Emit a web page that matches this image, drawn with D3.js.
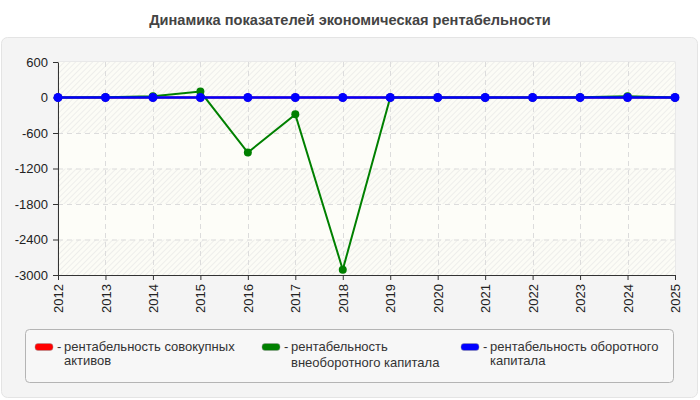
<!DOCTYPE html>
<html>
<head>
<meta charset="utf-8">
<script src="https://cdn.jsdelivr.net/npm/d3@7"></script>
<style>
  body { margin: 0; background: #fff; font-family: "Liberation Sans", Arial, sans-serif; }
</style>
</head>
<body>
<div id="chart"></div>
<script>
// data
const years = [2012, 2013, 2014, 2015, 2016, 2017, 2018, 2019, 2020, 2021, 2022, 2023, 2024, 2025]
const totalAssets = [0, 0, 0, 0, 0, 0, 0, 0, 0, 0, 0, 0, 0, 0]
const fixedCapital = [0, 5, 20, 100, -930, -285, -2910, 0, 0, 0, 0, 5, 22, 0]
const workingCapital = [0, 0, 0, 0, 0, 0, 0, 0, 0, 0, 0, 0, 0, 0]
const yTicks = [600, 0, -600, -1200, -1800, -2400, -3000]
const hatchedBands = [[600, 0], [0, -600], [-1200, -1800], [-2400, -3000]]

const series = [
  {name: 'рентабельность совокупных|активов', values: totalAssets, color: '#ff0000'},
  {name: 'рентабельность|внеоборотного капитала', values: fixedCapital, color: '#008000'},
  {name: 'рентабельность оборотного|капитала', values: workingCapital, color: '#0000ff'}
]

let W = 700, H = 400
let margin = {top: 62, right: 25, bottom: 125, left: 58},
  width = W - margin.left - margin.right,
  height = H - margin.top - margin.bottom

let svg = d3.select('#chart').append('svg')
  .attr('width', W).attr('height', H)
  .style('font-family', '"Liberation Sans", Arial, sans-serif')

let defs = svg.append('defs')
let pat = defs.append('pattern').attr('id', 'hatch')
  .attr('width', 4).attr('height', 4)
  .attr('patternUnits', 'userSpaceOnUse')
  .attr('patternTransform', 'rotate(45)')
pat.append('rect').attr('width', 4).attr('height', 4).attr('fill', '#fcfcf6')
pat.append('line').attr('x1', 0).attr('y1', 0).attr('x2', 0).attr('y2', 4)
  .attr('stroke', '#eaeae8').attr('stroke-width', 1.5)

// panel
svg.append('rect').attr('x', 1.5).attr('y', 37.5).attr('width', 696).attr('height', 360)
  .attr('rx', 6).attr('fill', '#f4f4f4').attr('stroke', '#e4e4e4')

svg.append('text').attr('x', W / 2).attr('y', 25)
  .attr('text-anchor', 'middle')
  .attr('font-size', 14.6).attr('font-weight', 'bold').attr('fill', '#444')
  .text('Динамика показателей экономическая рентабельности')

let g = svg.append('g').attr('transform', 'translate(' + margin.left + ',' + margin.top + ')')

let x = d3.scaleLinear().domain(d3.extent(years)).range([0, width])
let y = d3.scaleLinear().domain([-3000, 600]).range([height, 0])

g.append('rect').attr('width', width).attr('height', height)
  .attr('fill', '#fdfdf8').attr('stroke', '#dddddd')

g.selectAll('.band').data(hatchedBands).join('rect')
  .attr('class', 'band')
  .attr('x', 0).attr('width', width)
  .attr('y', d => y(d[0])).attr('height', d => y(d[1]) - y(d[0]))
  .attr('fill', 'url(#hatch)')

// grid
g.append('g').selectAll('line').data(yTicks.slice(1, -1)).join('line')
  .attr('x1', 0).attr('x2', width)
  .attr('y1', d => y(d) + 0.5).attr('y2', d => y(d) + 0.5)
  .attr('stroke', '#dcdcdc').attr('stroke-dasharray', '5,4')
g.append('g').selectAll('line').data(years.slice(1, -1)).join('line')
  .attr('y1', 0).attr('y2', height)
  .attr('x1', d => Math.round(x(d)) + 0.5).attr('x2', d => Math.round(x(d)) + 0.5)
  .attr('stroke', '#dcdcdc').attr('stroke-dasharray', '5,4')

// axes
let yAxis = g.append('g').call(d3.axisLeft(y).tickValues(yTicks).tickFormat(d => String(d)).tickSize(5).tickSizeOuter(0))
let xAxis = g.append('g').attr('transform', 'translate(0,' + height + ')')
  .call(d3.axisBottom(x).tickValues(years).tickFormat(d => String(d)).tickSize(5).tickSizeOuter(0))
;[yAxis, xAxis].forEach(a => {
  a.select('.domain').attr('stroke', '#333')
  a.selectAll('.tick line').attr('stroke', '#333')
  a.selectAll('text').attr('font-size', 13).attr('fill', '#222')
    .attr('font-family', '"Liberation Sans", Arial, sans-serif')
})
yAxis.selectAll('text').attr('x', -10)
xAxis.selectAll('text')
  .attr('transform', 'rotate(-90)')
  .attr('text-anchor', 'end')
  .attr('x', -9).attr('y', 0).attr('dy', '0.35em')

// lines
let line = d3.line().x((d, i) => x(years[i])).y(d => y(d))
series.forEach(s => {
  let sg = g.append('g')
  sg.append('path').datum(s.values)
    .attr('d', line).attr('fill', 'none')
    .attr('stroke', s.color).attr('stroke-width', s.color == '#0000ff' ? 2.5 : 2)
  sg.selectAll('circle').data(s.values).join('circle')
    .attr('cx', (d, i) => x(years[i])).attr('cy', d => y(d))
    .attr('r', s.color == '#0000ff' ? 4.5 : 4).attr('fill', s.color)
})

// legend
svg.append('rect').attr('x', 25.5).attr('y', 329.5).attr('width', 648).attr('height', 53)
  .attr('rx', 4).attr('fill', '#f7f7f7').attr('stroke', '#b4b4b4')
let legX = [35, 262, 461]
series.forEach((s, i) => {
  let lg = svg.append('g').attr('transform', 'translate(' + legX[i] + ',340)')
  lg.append('rect').attr('x', 0).attr('y', 3.5).attr('width', 18).attr('height', 7)
    .attr('rx', 3).attr('fill', s.color).attr('stroke', '#999').attr('stroke-width', 0.5)
  lg.append('text').attr('x', 22).attr('y', 11).attr('font-size', 13).attr('fill', '#333').text('-')
  let parts = s.name.split('|')
  let t = lg.append('text').attr('font-size', 13).attr('fill', '#333')
  parts.forEach((p, j) => {
    t.append('tspan').attr('x', 29).attr('y', 11 + j * (i == 1 ? 16 : 14)).text(p)
  })
})
</script>
</body>
</html>
